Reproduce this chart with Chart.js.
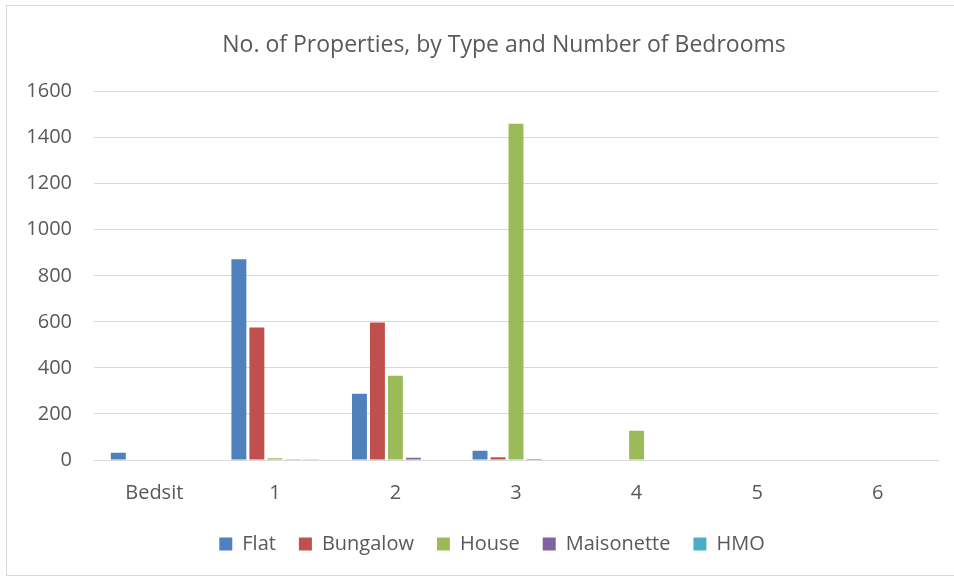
<!DOCTYPE html>
<html lang="en">

<head>
    <meta charset="UTF-8">
    <title>Properties by bedrooms</title>
    <style>
        body { margin: 0; background: #fff; }
        #frame { position: absolute; left: 6px; top: 5px; width: 960px; height: 569px; border: 1px solid #d9d9d9; }
        #wrap { position: absolute; left: 0; top: 0; width: 954px; height: 576px; }
    </style>
</head>

<body>
    <div id="frame"></div>
    <div id="wrap"><canvas id="cvs" width="954" height="576"></canvas></div>
    <script src="https://cdn.jsdelivr.net/npm/chart.js@4/dist/chart.umd.min.js"></script>

    <script>
        const categories = ["Bedsit", "1", "2", "3", "4", "5", "6"];
        const flat = [32, 872, 288, 40, 0, 0, 0];
        const bungalow = [0, 575, 597, 12, 0, 0, 0];
        const house = [0, 8, 366, 1460, 127, 0, 2];
        const maisonette = [0, 3, 10, 4, 0, 0, 0];
        const hmo = [0, 3, 0, 0, 0, 0, 0];

        const grey = "#595959";
        const font = "'Open Sans', sans-serif";

        const ctx = document.getElementById("cvs").getContext("2d");

        // the original chart is wider than the picture, so title and legend sit right of centre
        const shiftBlocks = {
            id: 'shiftBlocks',
            afterLayout(chart) {
                chart.titleBlock.left += 35;
                chart.titleBlock.right += 35;
                chart.legend.left += 23;
                chart.legend.right += 23;
            }
        };

        function ds(label, data, color) {
            return {
                label: label,
                data: data,
                backgroundColor: color,
                borderWidth: 0,
                categoryPercentage: 0.746,
                barPercentage: 0.83
            };
        }

        new Chart(ctx, {
            type: 'bar',
            data: {
                labels: categories,
                datasets: [
                    ds('Flat', flat, '#4F81BD'),
                    ds('Bungalow', bungalow, '#C0504D'),
                    ds('House', house, '#9BBB59'),
                    ds('Maisonette', maisonette, '#8064A2'),
                    ds('HMO', hmo, '#4BACC6')
                ]
            },
            plugins: [shiftBlocks],
            options: {
                responsive: false,
                animation: false,
                layout: { padding: { left: 0, right: 16, top: 0, bottom: 12 } },
                plugins: {
                    title: {
                        display: true,
                        text: 'No. of Properties, by Type and Number of Bedrooms',
                        color: grey,
                        font: { family: font, size: 23, weight: 'normal' },
                        padding: { top: 32, bottom: 32 }
                    },
                    legend: {
                        position: 'bottom',
                        labels: {
                            color: grey,
                            font: { family: font, size: 20 },
                            boxWidth: 13,
                            boxHeight: 13,
                            padding: 23
                        }
                    },
                    tooltip: { enabled: false }
                },
                scales: {
                    x: {
                        grid: { display: false },
                        border: { color: '#d9d9d9' },
                        ticks: { color: grey, font: { family: font, size: 20 }, padding: 13 },
                        afterFit: function (s) { s.height = 51; }
                    },
                    y: {
                        min: 0,
                        max: 1600,
                        ticks: {
                            stepSize: 200, color: grey, font: { family: font, size: 20 }, padding: 22,
                            callback: function (v) { return String(v); }
                        },
                        grid: { color: '#d9d9d9', drawTicks: false },
                        border: { display: false },
                        afterFit: function (s) { s.width = 94; }
                    }
                }
            }
        });
    </script>
</body>

</html>
